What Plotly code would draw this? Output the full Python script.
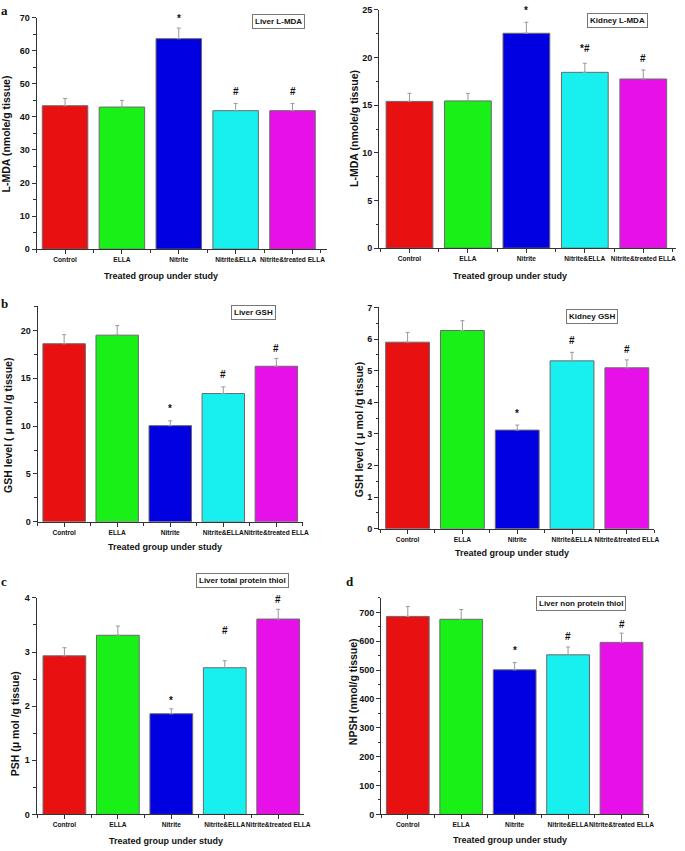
import plotly.graph_objects as go

# groups on the x axis
groups = ["Control", "ELLA", "Nitrite", "Nitrite&ELLA", "Nitrite&treated ELLA"]
bar_colors = ["#e81010", "#18f018", "#0000e0", "#18f0f0", "#e810e8"]

# values (mean and upper error)
liver_mda = [43.4, 43.0, 63.7, 41.9, 41.9]
liver_mda_err = [2.2, 2.0, 3.2, 2.2, 2.2]
kidney_mda = [15.4, 15.45, 22.55, 18.45, 17.75]
kidney_mda_err = [0.85, 0.8, 1.15, 0.95, 0.95]
liver_gsh = [18.6, 19.5, 10.05, 13.4, 16.25]
liver_gsh_err = [0.95, 1.0, 0.5, 0.7, 0.82]
kidney_gsh = [5.9, 6.27, 3.12, 5.31, 5.09]
kidney_gsh_err = [0.31, 0.31, 0.16, 0.27, 0.25]
liver_psh = [2.93, 3.31, 1.86, 2.71, 3.61]
liver_psh_err = [0.15, 0.17, 0.09, 0.13, 0.18]
liver_npsh = [686, 676, 501, 553, 596]
liver_npsh_err = [34, 34, 25, 27, 32]

sig_mda_liver = ["", "", "*", "#", "#"]
sig_mda_kidney = ["", "", "*", "*#", "#"]
sig_default = ["", "", "*", "#", "#"]

W, H = 685, 851
FONT = "Liberation Sans, Arial, sans-serif"
INK = "#111111"


def px(x):
    return x / W


def py(y):
    return 1 - y / H


panels = [
    dict(values=liver_mda, err=liver_mda_err, sig=sig_mda_liver, label="Liver L-MDA",
         ytitle="L-MDA (nmole/g tissue)", yrange=[0, 70], dtick=10,
         xdom=(37, 330), ydom=(247, 13), xrange=[-0.5, 4.6],
         box=(281, 16.5), yt=(7, 130), xt=(163, 274), letter="a", lpos=(5, 6),
         shifts=[0, 0, 10, 12, 12]),
    dict(values=kidney_mda, err=kidney_mda_err, sig=sig_mda_kidney, label="Kidney L-MDA",
         ytitle="L-MDA (nmole/g tissue)", yrange=[0, 25], dtick=5,
         xdom=(383, 683), ydom=(246, 5), xrange=[-0.52, 4.56],
         box=(624, 16), yt=(357, 125), xt=(515, 274), letter=None, lpos=None,
         shifts=[0, 0, 12, 15, 11]),
    dict(values=liver_gsh, err=liver_gsh_err, sig=sig_default, label="Liver GSH",
         ytitle="GSH level ( \u03bc mol /g tissue)", yrange=[0, 22.5], dtick=5,
         xdom=(38, 306), ydom=(523, 305), xrange=[-0.5, 4.5],
         box=(256, 311.5), yt=(8, 425), xt=(167, 548), letter="b", lpos=(5, 302),
         shifts=[0, 0, 12, 12, 10]),
    dict(values=kidney_gsh, err=kidney_gsh_err, sig=sig_default, label="Kidney GSH",
         ytitle="GSH level ( \u03bc mol /g tissue)", yrange=[0, 7], dtick=1,
         xdom=(383, 661), ydom=(530, 306), xrange=[-0.52, 4.5],
         box=(598, 315.5), yt=(363, 430), xt=(517, 555), letter=None, lpos=None,
         shifts=[0, 0, 12, 12, 10]),
    dict(values=liver_psh, err=liver_psh_err, sig=sig_default, label="Liver total protein thiol",
         ytitle="PSH (\u03bc mol /g tissue)", yrange=[0, 4], dtick=1,
         xdom=(37, 307), ydom=(819, 600), xrange=[-0.52, 4.48],
         box=(245, 582), yt=(16, 727), xt=(168, 846), letter="c", lpos=(4, 583),
         shifts=[0, 0, 8, 30, 10]),
    dict(values=liver_npsh, err=liver_npsh_err, sig=sig_default, label="Liver non protein thiol",
         ytitle="NPSH (nmol/g tissue)", yrange=[0, 750], dtick=100,
         xdom=(385, 656), ydom=(819, 600), xrange=[-0.5, 4.52],
         box=(587, 606), yt=(356, 695), xt=(515, 845), letter="d", lpos=(354, 583),
         shifts=[0, 0, 12, 11, 9]),
]

fig = go.Figure()
annotations = []
xpos = list(range(len(groups)))


def paper_text(x, y, text, size, **kw):
    d = dict(x=px(x), y=py(y), xref="paper", yref="paper", text=text,
             showarrow=False, xanchor="center", yanchor="middle",
             font=dict(family=kw.pop("family", FONT), size=size, color=INK))
    d.update(kw)
    return d


for i, p in enumerate(panels, start=1):
    xa = "x" if i == 1 else f"x{i}"
    ya = "y" if i == 1 else f"y{i}"
    fig.add_trace(go.Bar(
        x=xpos, y=p["values"], xaxis=xa, yaxis=ya,
        marker=dict(color=bar_colors, line=dict(color="#6a6a6a", width=1)),
        width=0.8,
        error_y=dict(type="data", symmetric=False, array=p["err"],
                     arrayminus=[0] * len(groups), color="#999999",
                     thickness=1, width=2),
        showlegend=False,
    ))

    axis_common = dict(showline=True, linecolor="#333333", linewidth=1,
                       showgrid=False, zeroline=False, ticks="outside",
                       tickcolor="#333333", ticklen=4, tickwidth=1)
    fig.update_layout({
        ("xaxis" if i == 1 else f"xaxis{i}"): dict(
            axis_common, domain=[px(p["xdom"][0]), px(p["xdom"][1])],
            anchor=ya, range=p["xrange"], tickmode="array",
            tickvals=xpos, ticktext=[f"<b>{g}</b>" for g in groups],
            tickangle=0,
            tickfont=dict(family=FONT, size=6.6, color=INK),
            minor=dict(tickvals=[k + 0.5 for k in range(-1, len(groups))],
                       ticks="outside", ticklen=3, tickcolor="#333333"),
        ),
        ("yaxis" if i == 1 else f"yaxis{i}"): dict(
            axis_common, domain=[py(p["ydom"][0]), py(p["ydom"][1])],
            anchor=xa, range=p["yrange"], dtick=p["dtick"], tick0=0,
            tickprefix="<b>", ticksuffix="</b>",
            tickfont=dict(family=FONT, size=9, color=INK),
            minor=dict(dtick=p["dtick"] / 2, ticks="outside", ticklen=2.5,
                       tickcolor="#333333"),
        ),
    })

    # significance marks above the error bars
    for k, s in enumerate(p["sig"]):
        if s:
            annotations.append(dict(
                x=xpos[k], y=p["values"][k] + p["err"][k], xref=xa, yref=ya,
                text=f"<b>{s}</b>", showarrow=False, yanchor="middle",
                yshift=p["shifts"][k],
                font=dict(family=FONT, size=10, color=INK),
            ))

    # boxed panel label
    annotations.append(paper_text(
        p["box"][0], p["box"][1], f"<b>{p['label']}</b>", 8,
        bordercolor="#777777", borderwidth=1, borderpad=2, bgcolor="white"))
    # y title
    annotations.append(paper_text(p["yt"][0], p["yt"][1],
                                  f"<b>{p['ytitle']}</b>", 10.5, textangle=-90))
    # x title
    annotations.append(paper_text(p["xt"][0], p["xt"][1],
                                  "<b>Treated group under study</b>", 9))
    if p["letter"]:
        annotations.append(paper_text(
            p["lpos"][0], p["lpos"][1], f"<b>{p['letter']}</b>", 13,
            family="Liberation Serif, Times New Roman, serif"))

fig.update_layout(
    width=W, height=H,
    margin=dict(l=0, r=0, t=0, b=0),
    paper_bgcolor="white", plot_bgcolor="white",
    annotations=annotations,
)

# the page body has a default 8px margin; drop it so the figure fills the window
fig.write_html("out.html",
               config={"displayModeBar": False},
               post_script="document.body.style.margin='0';"
                           "document.body.style.overflow='hidden';")
